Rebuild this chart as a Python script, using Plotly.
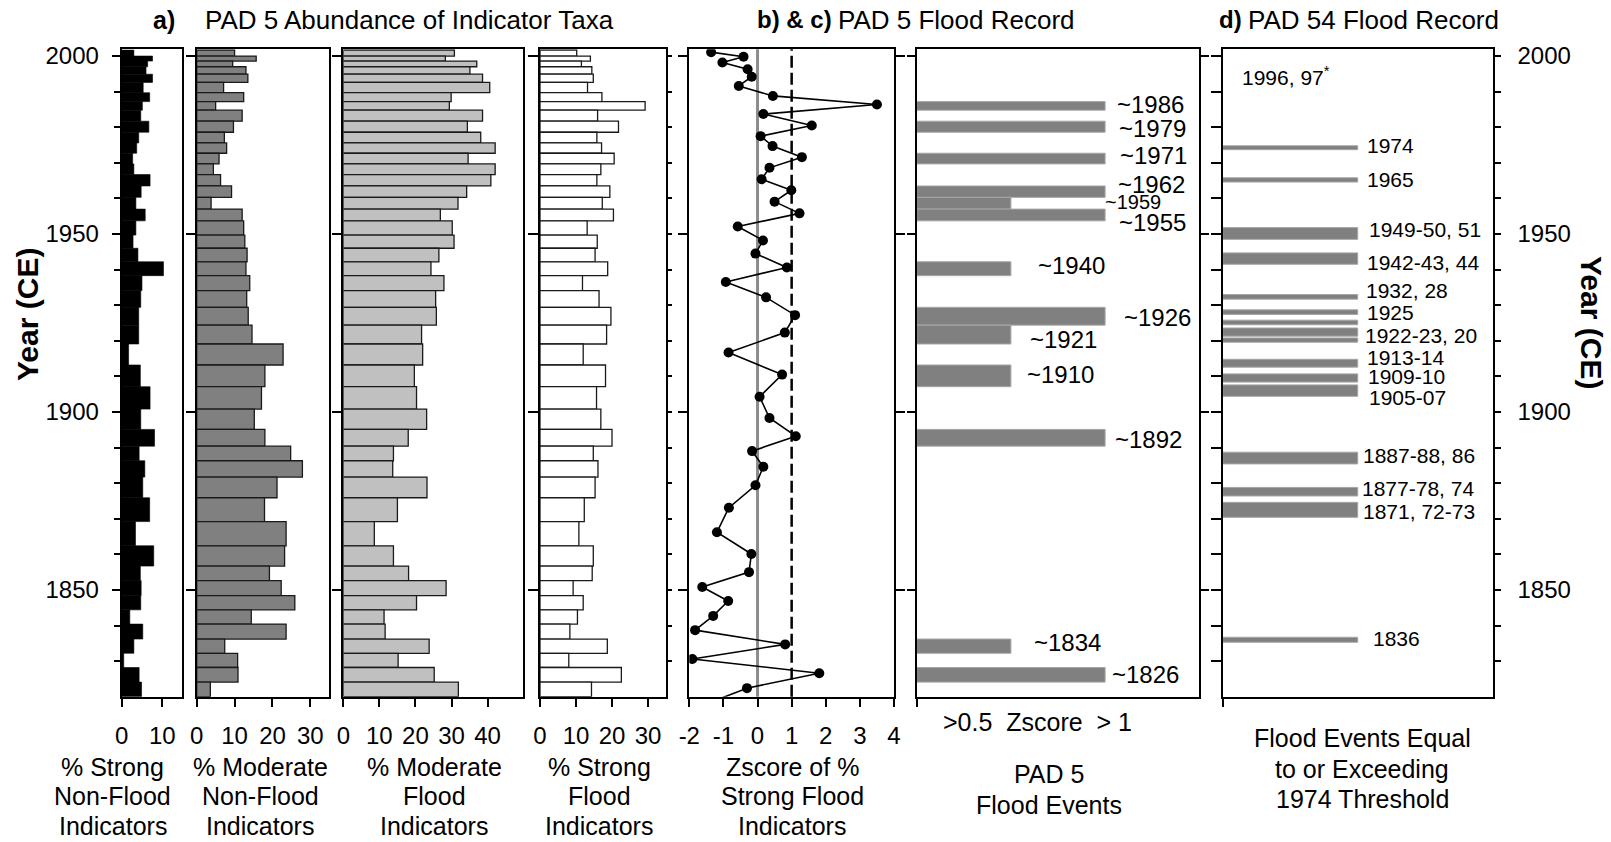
import plotly.graph_objects as go

W, H = 1611, 842
FONT = "Arial, Liberation Sans, sans-serif"

# ---------------- data ----------------
# sample interval boundaries (year CE), top to bottom
bin_edges = [2001.7, 2000.0, 1998.6, 1997.0, 1994.9, 1992.6, 1989.7, 1987.2, 1984.8, 1981.7,
             1978.6, 1975.6, 1972.7, 1969.7, 1966.7, 1963.5, 1960.3, 1957.0, 1953.7, 1949.7,
             1946.0, 1942.2, 1938.3, 1934.1, 1929.4, 1924.4, 1919.1, 1913.2, 1907.1, 1900.8,
             1895.1, 1890.4, 1886.3, 1881.7, 1875.9, 1869.2, 1862.4, 1856.7, 1852.6, 1848.4,
             1844.4, 1840.4, 1836.2, 1832.2, 1828.2, 1824.1, 1820.0]

strong_nonflood = [3.0, 7.6, 6.4, 6.0, 7.6, 5.3, 6.9, 5.1, 4.7, 6.7,
                   4.2, 3.7, 2.7, 3.0, 7.0, 4.8, 3.5, 5.8, 3.5, 2.8,
                   4.0, 10.3, 5.0, 4.7, 4.2, 4.2, 1.7, 4.6, 7.0, 4.7,
                   8.1, 4.3, 5.7, 5.2, 6.9, 3.4, 7.9, 4.6, 4.8, 4.7,
                   2.0, 5.2, 3.0, 0.5, 4.3, 4.9]

moderate_nonflood = [10.0, 15.7, 9.5, 13.0, 13.5, 7.1, 12.4, 5.0, 12.0, 9.7,
                     7.3, 7.9, 5.9, 4.4, 6.3, 9.2, 3.8, 12.0, 12.4, 12.7,
                     13.3, 13.0, 14.0, 13.2, 13.6, 14.6, 22.8, 18.0, 17.1, 15.2,
                     18.0, 24.8, 27.9, 21.2, 17.9, 23.6, 23.2, 19.2, 22.3, 25.9,
                     14.4, 23.6, 7.4, 10.8, 10.9, 3.6]

moderate_flood = [30.8, 28.3, 37.0, 35.1, 38.6, 40.6, 29.9, 29.4, 38.6, 34.4,
                  38.1, 42.1, 34.6, 42.1, 40.9, 34.2, 31.8, 26.9, 30.2, 30.7,
                  26.5, 24.3, 27.9, 25.6, 25.8, 21.7, 22.0, 19.7, 20.3, 23.1,
                  18.0, 13.9, 13.7, 23.2, 15.0, 8.6, 13.9, 18.1, 28.5, 20.3,
                  11.3, 11.6, 23.8, 15.2, 25.2, 31.9]

strong_flood = [10.2, 14.0, 11.5, 14.4, 14.8, 13.2, 17.2, 29.2, 16.0, 21.8,
                15.8, 17.1, 20.6, 16.9, 15.8, 19.4, 17.3, 20.4, 13.1, 15.9,
                15.3, 18.8, 11.8, 16.4, 19.7, 18.5, 12.0, 18.2, 15.7, 16.9,
                20.0, 14.8, 16.1, 15.3, 12.3, 10.8, 14.8, 14.5, 9.2, 12.0,
                10.4, 8.3, 18.7, 8.0, 22.6, 14.3]

z_year = [2001.1, 1999.8, 1998.2, 1996.3, 1994.2, 1991.6, 1988.8, 1986.4, 1983.7, 1980.5,
          1977.5, 1974.7, 1971.6, 1968.6, 1965.4, 1962.3, 1959.1, 1955.8, 1952.1, 1948.2,
          1944.5, 1940.6, 1936.5, 1932.2, 1927.2, 1922.3, 1916.7, 1910.5, 1904.3, 1898.3,
          1893.2, 1889.0, 1884.6, 1879.4, 1873.1, 1866.2, 1860.1, 1855.0, 1850.8, 1846.9,
          1842.7, 1838.7, 1834.7, 1830.6, 1826.6, 1822.4, 1818.5]
z_score = [-1.36, -0.41, -1.03, -0.29, -0.17, -0.55, 0.45, 3.50, 0.17, 1.59,
           0.09, 0.44, 1.30, 0.35, 0.12, 0.99, 0.50, 1.23, -0.58, 0.16,
           -0.06, 0.86, -0.93, 0.25, 1.10, 0.80, -0.85, 0.72, 0.06, 0.35,
           1.12, -0.16, 0.17, -0.06, -0.84, -1.19, -0.18, -0.25, -1.62, -0.86,
           -1.30, -1.83, 0.81, -1.91, 1.81, -0.31, -1.36]
z_ticks = [-2, -1, 0, 1, 2, 3, 4]
z_ticktext = ["-2", "-1", "0", "1", "2", "3", "4"]

# PAD 5 flood events (c): 1 = Zscore > 0.5, 2 = Zscore > 1
c_top = [1987.2, 1981.7, 1972.7, 1963.5, 1960.3, 1957.0, 1942.2, 1929.4, 1924.4, 1913.2, 1895.1, 1836.2, 1828.2]
c_bot = [1984.8, 1978.6, 1969.7, 1960.3, 1957.0, 1953.7, 1938.3, 1924.4, 1919.1, 1907.1, 1890.4, 1832.2, 1824.1]
c_level = [2, 2, 2, 2, 1, 2, 1, 2, 1, 1, 2, 1, 2]
c_labels = ["~1986", "~1979", "~1971", "~1962", "~1959", "~1955", "~1940",
            "~1926", "~1921", "~1910", "~1892", "~1834", "~1826"]
c_label_year = [1986.5, 1979.7, 1972.2, 1964.0, 1959.1, 1953.2, 1941.1,
                1926.5, 1920.5, 1910.4, 1892.3, 1835.2, 1826.1]

# PAD 54 flood record (d)
d_top = [1974.8, 1965.8, 1951.8, 1944.7, 1933.0, 1928.7, 1925.8, 1923.6, 1920.8,
         1914.8, 1910.7, 1907.6, 1888.7, 1878.8, 1874.6, 1836.7]
d_bot = [1973.7, 1964.6, 1948.5, 1941.5, 1931.7, 1927.4, 1924.5, 1921.3, 1919.6,
         1912.6, 1908.4, 1904.4, 1885.4, 1876.4, 1870.4, 1835.3]
d_labels = ["1974", "1965", "1949-50, 51", "1942-43, 44", "1932, 28", "1925", "1922-23, 20",
            "1913-14", "1909-10", "1905-07", "1887-88, 86", "1877-78, 74", "1871, 72-73", "1836"]
d_label_year = [1974.8, 1965.2, 1951.3, 1942.0, 1934.1, 1928.0, 1921.6,
                1915.3, 1910.0, 1904.1, 1887.9, 1878.6, 1872.0, 1836.4]
d_note = "1996, 97<sup>*</sup>"
d_note_year = 1994.3

major_years = [1850, 1900, 1950, 2000]
decade_years = list(range(1830, 2001, 10))
minor_years = [y for y in decade_years if y not in major_years]

# ---------------- layout helpers ----------------
c_label_x = [2.105, 2.123, 2.14, 2.116, 1.975, 2.123, 1.266, 2.176, 1.185, 1.15, 2.087, 1.221, 2.052]
d_label_x = [1.054, 1.054, 1.067, 1.054, 1.047, 1.054, 1.042, 1.054, 1.061, 1.071, 1.024, 1.017, 1.024, 1.096]

bin_mid = [(a + b) / 2 for a, b in zip(bin_edges[:-1], bin_edges[1:])]
bin_h = [a - b for a, b in zip(bin_edges[:-1], bin_edges[1:])]

YR = [1820.0, 2001.9]
YDOM = [1 - 696.7 / H, 1 - 49.3 / H]


def xd(a, b):
    return [a / W, b / W]


def px(v):
    return v / W


def py(v):
    return 1 - v / H


fig = go.Figure()


def add_bars(vals, n, fill, lw, lc):
    fig.add_trace(go.Bar(x=vals, y=bin_mid, width=bin_h, orientation="h",
                         xaxis="x" + ("" if n == 1 else str(n)),
                         yaxis="y" + ("" if n == 1 else str(n)),
                         marker=dict(color=fill, line=dict(color=lc, width=lw)),
                         showlegend=False, hoverinfo="skip"))


add_bars(strong_nonflood, 1, "black", 0.6, "black")
add_bars(moderate_nonflood, 2, "#808080", 1.3, "#1a1a1a")
add_bars(moderate_flood, 3, "#c0c0c0", 1.3, "#1a1a1a")
add_bars(strong_flood, 4, "white", 1.3, "#1a1a1a")

fig.add_trace(go.Scatter(x=z_score, y=z_year, mode="lines+markers", xaxis="x5", yaxis="y5",
                         line=dict(color="black", width=1.6),
                         marker=dict(color="black", size=10),
                         showlegend=False, hoverinfo="skip"))

fig.add_trace(go.Bar(x=c_level, y=[(a + b) / 2 for a, b in zip(c_top, c_bot)],
                     width=[a - b for a, b in zip(c_top, c_bot)], orientation="h",
                     xaxis="x6", yaxis="y6",
                     marker=dict(color="#808080", line=dict(color="#a6a6a6", width=1)),
                     showlegend=False, hoverinfo="skip"))

fig.add_trace(go.Bar(x=[1] * len(d_top), y=[(a + b) / 2 for a, b in zip(d_top, d_bot)],
                     width=[a - b for a, b in zip(d_top, d_bot)], orientation="h",
                     xaxis="x7", yaxis="y7",
                     marker=dict(color="#808080", line=dict(color="#a6a6a6", width=1)),
                     showlegend=False, hoverinfo="skip"))

# empty traces for the overlay tick axes
fig.add_trace(go.Scatter(x=[None], y=[None], xaxis="x4", yaxis="y8", showlegend=False, hoverinfo="skip"))
fig.add_trace(go.Scatter(x=[None], y=[None], xaxis="x7", yaxis="y9", showlegend=False, hoverinfo="skip"))

tickfont = dict(family=FONT, size=24, color="black")
base = dict(showgrid=False, zeroline=False, showline=True, linecolor="black", linewidth=2,
            mirror=True, ticks="outside", tickcolor="black", tickwidth=1.5, tickfont=tickfont,
            automargin=False)

x_specs = {
    1: ((121.7, 181.7), [0, 14.8], [0, 10], True),
    2: ((196.7, 329.3), [0, 35], [0, 10, 20, 30], True),
    3: ((343.3, 523.3), [0, 49.9], [0, 10, 20, 30, 40], True),
    4: ((540.0, 666.0), [0, 35], [0, 10, 20, 30], True),
    5: ((689.3, 894.0), [-2, 4], z_ticks, True),
    6: ((916.7, 1199.3), [0, 3], [0], False),
    7: ((1222.7, 1492.7), [0, 2], [0], False),
}

lay = {}
for n, (dom, rng, tv, lab) in x_specs.items():
    key = "xaxis" if n == 1 else "xaxis%d" % n
    lay[key] = dict(base, domain=xd(*dom), range=rng, anchor="y" if n == 1 else "y%d" % n,
                    tickmode="array", tickvals=tv, showticklabels=lab, ticklen=8,
                    ticklabelstandoff=8, fixedrange=True)
lay["xaxis5"]["ticktext"] = z_ticktext

ybase = dict(base, domain=YDOM, range=YR, tickmode="array", showticklabels=False, fixedrange=True)
lay["yaxis"] = dict(ybase, anchor="x", tickvals=major_years, showticklabels=True, ticklen=8,
                    ticklabelstandoff=8,
                    minor=dict(tickmode="array", tickvals=minor_years, ticks="outside",
                               ticklen=6, tickcolor="black", tickwidth=1.5))
lay["yaxis2"] = dict(ybase, anchor="x2", tickvals=major_years, ticklen=9)
lay["yaxis3"] = dict(ybase, anchor="x3", tickvals=major_years, ticklen=9)
lay["yaxis4"] = dict(ybase, anchor="x4", tickvals=major_years, ticklen=10)
lay["yaxis5"] = dict(ybase, anchor="x5", tickvals=major_years, ticklen=9, mirror="ticks")
lay["yaxis6"] = dict(ybase, anchor="x6", tickvals=major_years, ticklen=8, mirror="ticks")
lay["yaxis7"] = dict(ybase, anchor="x7", tickvals=decade_years, ticklen=10)
lay["yaxis8"] = dict(ybase, anchor="x4", overlaying="y4", side="right", showline=False,
                     tickvals=decade_years, ticklen=5)
lay["yaxis9"] = dict(ybase, anchor="x7", overlaying="y7", side="right", showline=False,
                     tickvals=major_years, showticklabels=True, ticklen=7, ticklabelstandoff=12,
                     minor=dict(tickmode="array", tickvals=minor_years, ticks="outside",
                                ticklen=7, tickcolor="black", tickwidth=1.5))

shapes = [
    dict(type="line", xref="x5", yref="y5 domain", x0=0, x1=0, y0=0, y1=1,
         line=dict(color="#8c8c8c", width=3), layer="below"),
    dict(type="line", xref="x5", yref="y5 domain", x0=1, x1=1, y0=0, y1=1,
         line=dict(color="black", width=2.5, dash="12px,5px"), layer="below"),
]


def ann(text, x, y, size=26, xanchor="center", yanchor="middle", bold=False, angle=0, **kw):
    if bold:
        text = "<b>" + text + "</b>"
    d = dict(text=text, x=x, y=y, xref=kw.pop("xref", "paper"), yref=kw.pop("yref", "paper"),
             showarrow=False, xanchor=xanchor, yanchor=yanchor, textangle=angle,
             font=dict(family=FONT, size=size, color="black"))
    d.update(kw)
    return d


anns = []
# top titles
anns.append(ann("a)", px(151), py(20), size=25, xanchor="left", bold=True))
anns.append(ann("PAD 5 Abundance of Indicator Taxa", px(203), py(20), xanchor="left"))
anns.append(ann("b) &amp; c)", px(755), py(20), size=24, xanchor="left", bold=True))
anns.append(ann("PAD 5 Flood Record", px(836), py(20), xanchor="left"))
anns.append(ann("d)", px(1217), py(20), size=24, xanchor="left", bold=True))
anns.append(ann("PAD 54 Flood Record", px(1246), py(20), xanchor="left"))

# y titles
anns.append(ann("Year (CE)", px(27), py(315), size=30, bold=True, angle=-90))
anns.append(ann("Year (CE)", px(1591), py(322), size=30, bold=True, angle=90))

# bottom titles, one annotation per line
line_y = [766.5, 796.3, 826.0]
bottom_titles = [
    (113, ["% Strong", "Non-Flood", "Indicators"]),
    (260, ["% Moderate", "Non-Flood", "Indicators"]),
    (434, ["% Moderate", "Flood", "Indicators"]),
    (599, ["% Strong", "Flood", "Indicators"]),
    (792, ["Zscore of %", "Strong Flood", "Indicators"]),
]
for cx, lines in bottom_titles:
    for t, yy in zip(lines, line_y):
        anns.append(ann(t, px(cx), py(yy), size=25))
anns.append(ann(">0.5\u00a0\u00a0Zscore\u00a0\u00a0> 1", px(1037), py(722), size=25))
anns.append(ann("PAD 5", px(1049), py(773.6), size=25))
anns.append(ann("Flood Events", px(1049), py(804.5), size=25))
for t, yy in zip(["Flood Events Equal", "to or Exceeding", "1974 Threshold"], [737.7, 768.5, 799.0]):
    anns.append(ann(t, px(1362), py(yy), size=25))

# flood labels
for t, x, y in zip(c_labels, c_label_x, c_label_year):
    anns.append(ann(t, x, y, size=20 if t == "~1959" else 24, xanchor="left", xref="x6", yref="y6"))
for t, x, y in zip(d_labels, d_label_x, d_label_year):
    anns.append(ann(t, x, y, size=21, xanchor="left", xref="x7", yref="y7"))
anns.append(ann(d_note, 0.13, d_note_year, size=21, xanchor="left", xref="x7", yref="y7"))

fig.update_layout(
    width=W, height=H, margin=dict(l=0, r=0, t=0, b=0, pad=0, autoexpand=False),
    paper_bgcolor="white", plot_bgcolor="white", barmode="overlay",
    showlegend=False, shapes=shapes, annotations=anns,
    font=dict(family=FONT, size=24, color="black"),
    **lay,
)

fig.write_html("out.html", config={"displayModeBar": False},
               post_script="document.body.style.margin='0px';document.body.style.overflow='hidden';")
